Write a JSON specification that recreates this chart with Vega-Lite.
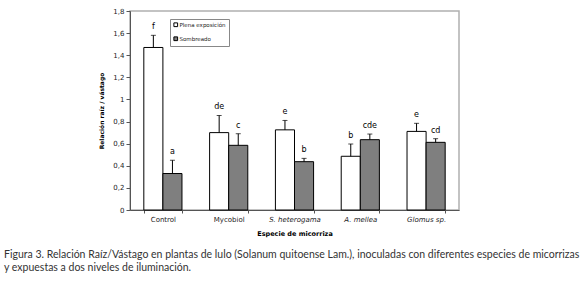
{
  "$schema": "https://vega.github.io/schema/vega-lite/v6.json",
  "width": 329,
  "height": 199,
  "autosize": {"type": "none"},
  "padding": {"left": 130, "top": 11, "right": 121, "bottom": 71},
  "background": "white",
  "config": {
    "font": "DejaVu Sans",
    "view": {"stroke": "#b0b0b0", "strokeWidth": 1.5},
    "axisY": {"labelOverlap": false}
  },
  "title": {
    "text": [
      "Figura 3. Relación Raíz/Vástago en plantas de lulo (Solanum quitoense Lam.), inoculadas con diferentes especies de micorrizas",
      "y expuestas a dos niveles de iluminación."
    ],
    "orient": "bottom",
    "anchor": "start",
    "frame": "group",
    "dx": -126,
    "offset": 13,
    "font": "Lato",
    "fontSize": 10.5,
    "fontWeight": "normal",
    "color": "#333333",
    "lineHeight": 13
  },
  "data": {
    "values": [
      {"especie": "Control", "tratamiento": "Plena exposición", "valor": 1.47, "sup": 1.58, "letra": "f"},
      {"especie": "Control", "tratamiento": "Sombreado", "valor": 0.33, "sup": 0.45, "letra": "a"},
      {"especie": "Mycobiol", "tratamiento": "Plena exposición", "valor": 0.70, "sup": 0.855, "letra": "de"},
      {"especie": "Mycobiol", "tratamiento": "Sombreado", "valor": 0.585, "sup": 0.69, "letra": "c"},
      {"especie": "S. heterogama", "tratamiento": "Plena exposición", "valor": 0.725, "sup": 0.81, "letra": "e"},
      {"especie": "S. heterogama", "tratamiento": "Sombreado", "valor": 0.437, "sup": 0.467, "letra": "b"},
      {"especie": "A. mellea", "tratamiento": "Plena exposición", "valor": 0.486, "sup": 0.597, "letra": "b"},
      {"especie": "A. mellea", "tratamiento": "Sombreado", "valor": 0.636, "sup": 0.687, "letra": "cde"},
      {"especie": "Glomus sp.", "tratamiento": "Plena exposición", "valor": 0.711, "sup": 0.784, "letra": "e"},
      {"especie": "Glomus sp.", "tratamiento": "Sombreado", "valor": 0.612, "sup": 0.645, "letra": "cd"}
    ]
  },
  "encoding": {
    "x": {
      "field": "especie",
      "type": "nominal",
      "sort": ["Control", "Mycobiol", "S. heterogama", "A. mellea", "Glomus sp."],
      "scale": {"paddingInner": 0.42, "paddingOuter": 0.21},
      "axis": {
        "title": "Especie de micorriza",
        "titleFontSize": 6.5,
        "titleFontWeight": "bold",
        "titleColor": "black",
        "titlePadding": 8,
        "labelAngle": 0,
        "labelFontSize": 7,
        "labelColor": "#222222",
        "labelPadding": 2,
        "labelFontStyle": {
          "condition": {"test": "datum.value === 'Control' || datum.value === 'Mycobiol'", "value": "normal"},
          "value": "italic"
        },
        "tickBand": "extent",
        "tickSize": 3,
        "tickColor": "#555555",
        "domainColor": "#555555"
      }
    },
    "xOffset": {
      "field": "tratamiento",
      "type": "nominal",
      "sort": ["Plena exposición", "Sombreado"],
      "scale": {"paddingInner": 0, "paddingOuter": 0}
    }
  },
  "layer": [
    {
      "mark": {"type": "bar", "stroke": "black", "strokeWidth": 1},
      "encoding": {
        "y": {
          "field": "valor",
          "type": "quantitative",
          "scale": {"domain": [0, 1.8], "nice": false},
          "axis": {
            "title": "Relación raíz / vástago",
            "titleFontSize": 6,
            "titleFontWeight": "bold",
            "titleColor": "black",
            "titlePadding": 8,
            "values": [0, 0.2, 0.4, 0.6, 0.8, 1, 1.2, 1.4, 1.6, 1.8],
            "tickCount": 20,
            "labelExpr": "replace(format(datum.value, '.1~f'), '.', ',')",
            "labelOverlap": false,
            "labelFontSize": 7,
            "labelColor": "#222222",
            "tickSize": 4,
            "tickColor": "#555555",
            "domainColor": "#555555",
            "grid": false
          }
        },
        "fill": {
          "field": "tratamiento",
          "type": "nominal",
          "sort": ["Plena exposición", "Sombreado"],
          "scale": {"range": ["white", "#7f7f7f"]},
          "legend": {
            "title": null,
            "orient": "none",
            "legendX": 40,
            "legendY": 8,
            "strokeColor": "#888888",
            "padding": 3,
            "symbolType": "square",
            "symbolSize": 14,
            "symbolStrokeColor": "black",
            "symbolStrokeWidth": 1,
            "labelFontSize": 5.5,
            "labelColor": "#222222",
            "rowPadding": 5,
            "labelOffset": 1
          }
        }
      }
    },
    {
      "mark": {"type": "rule", "color": "black", "strokeWidth": 1},
      "encoding": {
        "y": {"field": "valor", "type": "quantitative"},
        "y2": {"field": "sup"}
      }
    },
    {
      "mark": {"type": "tick", "color": "black", "size": 5, "thickness": 1},
      "encoding": {
        "y": {"field": "sup", "type": "quantitative"}
      }
    },
    {
      "mark": {"type": "text", "dy": -8, "fontSize": 8, "color": "black"},
      "encoding": {
        "y": {"field": "sup", "type": "quantitative"},
        "text": {"field": "letra"}
      }
    }
  ]
}
